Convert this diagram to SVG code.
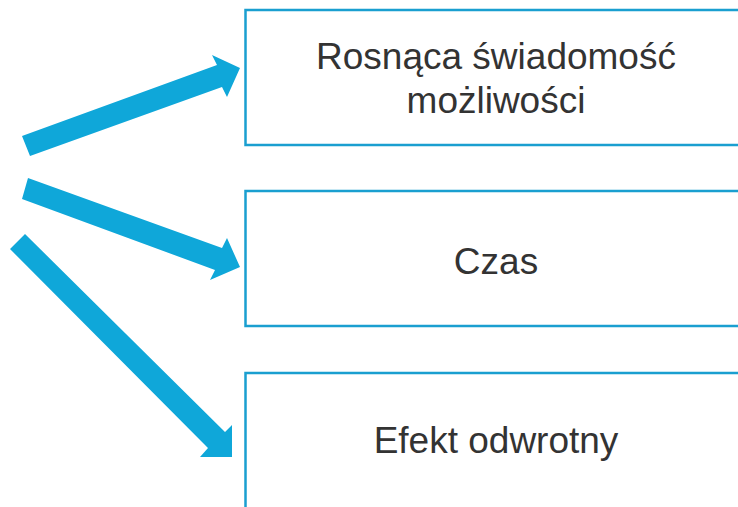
<svg xmlns="http://www.w3.org/2000/svg" width="738" height="507" viewBox="0 0 738 507">
<style>
.box{fill:#ffffff;stroke:#1a9fd0;stroke-width:2.5}
.lbl{font-family:"Liberation Sans",Arial,sans-serif;font-size:37px;fill:#333333;text-anchor:middle}
.arr{fill:#0fa7d9}
</style>
<rect width="738" height="507" fill="#ffffff"/>
<g id="connectors">
<polygon class="arr" points="22,136 217,65 212,55 240,68 227,97 222,87 30,156"/>
<polygon class="arr" points="28,178 222,248 227,238 240,267 210,280 215,270 22,199"/>
<polygon class="arr" points="25,234 225,432 232,425 232,457 200,457 208,448 10,249"/>
</g>
<g id="node1">
<rect class="box" x="245.5" y="10" width="520" height="135"/>
<text class="lbl" x="496" y="69">Rosnąca świadomość</text>
<text class="lbl" x="496" y="113">możliwości</text>
</g>
<g id="node2">
<rect class="box" x="245.5" y="191" width="520" height="135"/>
<text class="lbl" x="496" y="274">Czas</text>
</g>
<g id="node3">
<rect class="box" x="245.5" y="373" width="520" height="150"/>
<text class="lbl" x="496" y="453">Efekt odwrotny</text>
</g>
</svg>
